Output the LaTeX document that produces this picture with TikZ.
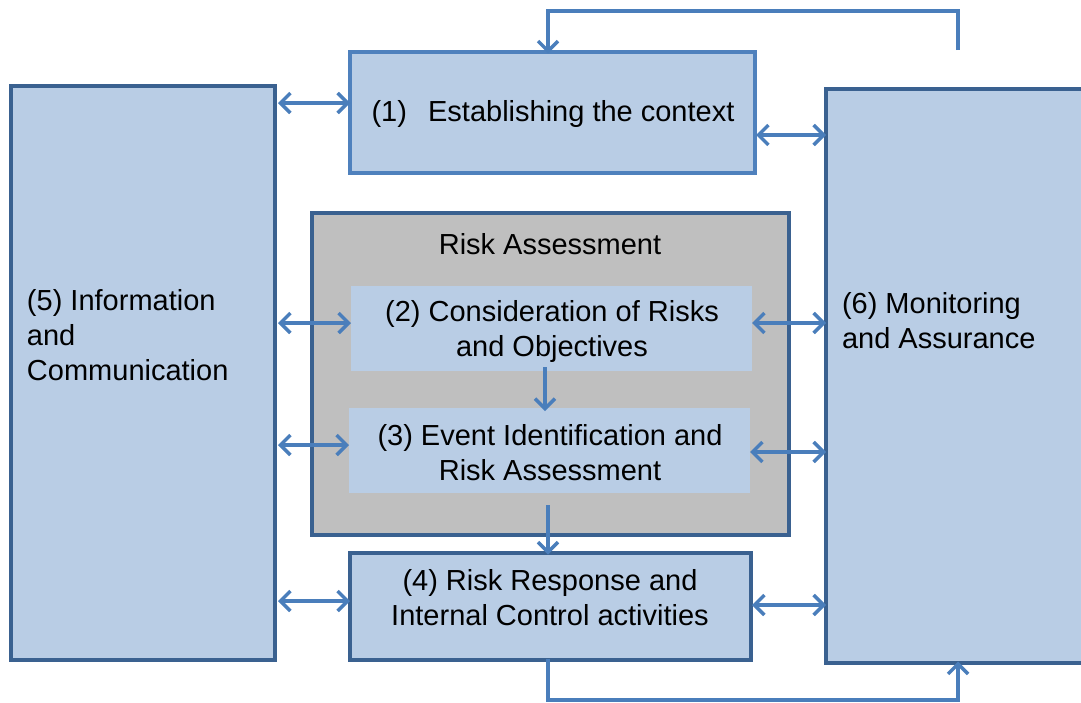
\documentclass[tikz,border=0pt]{standalone}
\usepackage{fontspec}
\setmainfont{Liberation Sans}
\usetikzlibrary{arrows.meta,calc}
\definecolor{boxfill}{HTML}{B9CDE5}
\definecolor{darkedge}{HTML}{3A6190}
\definecolor{lightedge}{HTML}{4F81BD}
\definecolor{arrowc}{HTML}{4A7EBB}
\definecolor{grayfill}{HTML}{BFBFBF}
\begin{document}
\begin{tikzpicture}[x=1pt,y=-1pt,
  every node/.style={font=\fontsize{29}{35}\selectfont, inner sep=0pt, outer sep=0pt},
  bigbox/.style={draw=darkedge, line width=3.5pt, fill=boxfill, rectangle},
  ctxbox/.style={draw=lightedge, line width=3.5pt, fill=boxfill, rectangle},
  innerbox/.style={fill=boxfill, rectangle},
  grayframe/.style={draw=darkedge, line width=3.5pt, fill=grayfill, rectangle},
  conn/.style={draw=arrowc, line width=3.5pt},
  arr/.style={conn, -{Straight Barb[length=10pt,width=20pt]}},
  darr/.style={conn, {Straight Barb[length=10pt,width=20pt]}-{Straight Barb[length=10pt,width=20pt]}},
  txt/.style={align=center}
]
\useasboundingbox (0,0) rectangle (1081,702);
\clip (0,0) rectangle (1081,702);
% boxes
\node[bigbox, minimum width=264pt, minimum height=574pt] (n5) at (143,373) {};
\node[ctxbox, minimum width=405pt, minimum height=121pt] (n1) at (552.5,112.5) {};
\node[bigbox, minimum width=264pt, minimum height=574pt] (n6) at (958,376) {};
\node[grayframe, minimum width=477pt, minimum height=322pt] (ra) at (550.5,374) {};
\node[innerbox, minimum width=401pt, minimum height=85pt] (n2) at (551.5,328.5) {};
\node[innerbox, minimum width=401pt, minimum height=85pt] (n3) at (549.5,450.5) {};
\node[bigbox, minimum width=401pt, minimum height=107pt] (n4) at (550.5,606.5) {};
% texts
\node[txt] (t1) at (553,114) {(1)\hspace{0.45em}\ Establishing the context};
\node[txt] (tra) at (550,244) {Risk Assessment};
\node[txt] (t2) at (552,331) {(2) Consideration of Risks\\and Objectives};
\node[txt] (t3) at (550,453) {(3) Event Identification and\\Risk Assessment};
\node[txt] (t4) at (550,598) {(4) Risk Response and\\Internal Control activities};
\node[align=left, anchor=west] (t5) at (27,335) {(5) Information\\and\\Communication};
\node[align=left, anchor=west] (t6) at (842,321) {(6) Monitoring\\and Assurance};
% row coordinates
\coordinate (ya) at (0,103);
\coordinate (yb) at (0,135);
\coordinate (yc) at (0,323);
\coordinate (yd) at (0,445);
\coordinate (ye) at (0,452);
\coordinate (yf) at (0,601);
\coordinate (yg) at (0,605);
% horizontal double arrows
\draw[darr] ([xshift=3pt]n5.east |- ya) -- (n1.west |- ya);
\draw[darr] ([xshift=1pt]n1.east |- yb) -- (n6.west |- yb);
\draw[darr] ([xshift=3pt]n5.east |- yc) -- (n2.west |- yc);
\draw[darr] (n2.east |- yc) -- (n6.west |- yc);
\draw[darr] ([xshift=3pt]n5.east |- yd) -- (n3.west |- yd);
\draw[darr] (n3.east |- ye) -- (n6.west |- ye);
\draw[darr] ([xshift=3pt]n5.east |- yf) -- (n4.west |- yf);
\draw[darr] ([xshift=1pt]n4.east |- yg) -- (n6.west |- yg);
% vertical arrows
\coordinate (x23) at (545,0);
\coordinate (x34) at (548,0);
\draw[arr] ([yshift=4pt]n2.south -| x23) -- ([yshift=-3pt]n3.north -| x23);
\coordinate (rastart) at (548,505);
\draw[arr] (rastart) -- ([yshift=-1.5pt]n4.north -| x34);
% top loop
\coordinate (topfree) at (958,50);
\draw[arr] (topfree) -- (958,11) -- (548,11) -- ([yshift=-1.5pt]n1.north -| x34);
% bottom loop
\draw[arr] ([yshift=1.5pt]n4.south -| x34) -- (548,700) -- (958,700) -- ([yshift=1.5pt]n6.south);
\end{tikzpicture}
\end{document}
